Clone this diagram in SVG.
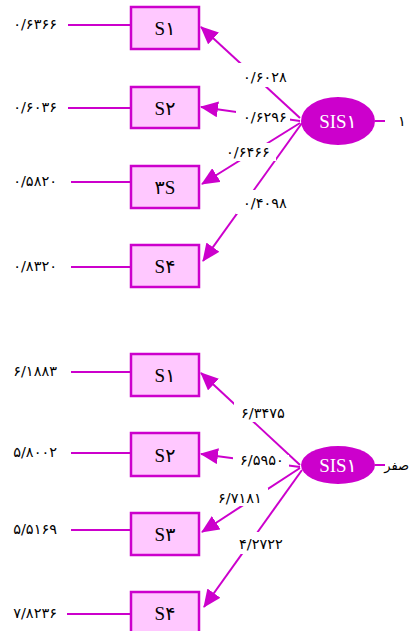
<svg xmlns="http://www.w3.org/2000/svg" width="411" height="631" viewBox="0 0 411 631">
<style>
.bg{fill:#ffffff}
.box{fill:#ffc8ff;stroke:#cc00cc;stroke-width:2.5}
.ell{fill:#cc00cc}
.ln{stroke:#cc00cc;stroke-width:2;fill:none}
.arr{stroke:#cc00cc;stroke-width:2;fill:none;marker-end:url(#ah)}
.lbl{font-family:"DejaVu Sans","Noto Sans",sans-serif;font-size:14.5px;fill:#000}
.nm{font-family:"Liberation Serif","DejaVu Serif","DejaVu Sans",serif;font-size:19px;fill:#000;text-anchor:middle}
.en{font-family:"Liberation Serif","DejaVu Serif","DejaVu Sans",serif;font-size:19px;fill:#fff;text-anchor:middle}
.lab{fill:#fff}
</style>
<defs>
<marker id="ah" markerUnits="userSpaceOnUse" markerWidth="18" markerHeight="16" refX="17" refY="8" orient="auto">
<path d="M0,0 L18,8 L0,16 z" fill="#cc00cc"/>
</marker>
</defs>
<rect class="bg" x="0" y="0" width="411" height="631"/>
<g id="connectors">
<line class="ln" x1="68" y1="25" x2="131" y2="25"/>
<line class="ln" x1="68" y1="108" x2="131" y2="108"/>
<line class="ln" x1="71" y1="182" x2="131" y2="182"/>
<line class="ln" x1="71" y1="267" x2="131" y2="267"/>
<line class="ln" x1="375" y1="121" x2="385" y2="121"/>
<line class="arr" x1="300" y1="118" x2="201" y2="27"/>
<line class="arr" x1="300" y1="121" x2="201" y2="107"/>
<line class="arr" x1="300" y1="123" x2="202" y2="184"/>
<line class="arr" x1="302" y1="123" x2="203" y2="261"/>
<line class="ln" x1="71" y1="372" x2="131" y2="372"/>
<line class="ln" x1="71" y1="453" x2="131" y2="453"/>
<line class="ln" x1="71" y1="530" x2="131" y2="530"/>
<line class="ln" x1="67" y1="614" x2="131" y2="614"/>
<line class="ln" x1="375" y1="465" x2="385" y2="465"/>
<line class="arr" x1="300" y1="465" x2="201" y2="373"/>
<line class="arr" x1="300" y1="467" x2="201" y2="454"/>
<line class="arr" x1="300" y1="468" x2="202" y2="532"/>
<line class="arr" x1="302" y1="470" x2="204" y2="607"/>
<rect class="lab" x="236" y="63" width="56" height="24"/>
<text class="lbl" x="265" y="82" text-anchor="middle">۰/۶۰۲۸</text>
<rect class="lab" x="236" y="111" width="54" height="14"/>
<text class="lbl" x="265" y="122" text-anchor="middle">۰/۶۲۹۶</text>
<rect class="lab" x="220" y="143" width="56" height="18"/>
<text class="lbl" x="248" y="157" text-anchor="middle">۰/۶۴۶۶</text>
<rect class="lab" x="236" y="190" width="56" height="24"/>
<text class="lbl" x="265" y="208" text-anchor="middle">۰/۴۰۹۸</text>
<rect class="lab" x="234" y="400" width="58" height="22"/>
<text class="lbl" x="263" y="418" text-anchor="middle">۶/۳۴۷۵</text>
<rect class="lab" x="233" y="455" width="56" height="12"/>
<text class="lbl" x="262" y="465" text-anchor="middle">۶/۵۹۵۰</text>
<rect class="lab" x="212" y="488" width="56" height="18"/>
<text class="lbl" x="240" y="503" text-anchor="middle">۶/۷۱۸۱</text>
<rect class="lab" x="232" y="532" width="58" height="22"/>
<text class="lbl" x="261" y="549" text-anchor="middle">۴/۲۷۲۲</text>
</g>
<g id="top-labels">
<text class="lbl" x="57" y="29" text-anchor="end">۰/۶۳۶۶</text>
<text class="lbl" x="57" y="112" text-anchor="end">۰/۶۰۳۶</text>
<text class="lbl" x="57" y="186" text-anchor="end">۰/۵۸۲۰</text>
<text class="lbl" x="57" y="271" text-anchor="end">۰/۸۳۲۰</text>
<text class="lbl" x="398" y="126">۱</text>
</g>
<g id="bottom-labels">
<text class="lbl" x="57" y="376" text-anchor="end">۶/۱۸۸۳</text>
<text class="lbl" x="57" y="457" text-anchor="end">۵/۸۰۰۲</text>
<text class="lbl" x="57" y="534" text-anchor="end">۵/۵۱۶۹</text>
<text class="lbl" x="57" y="618" text-anchor="end">۷/۸۲۳۶</text>
<text class="lbl" x="409" y="470" text-anchor="end" style="font-size:13px">صفر</text>
</g>
<g id="t-s1"><rect class="box" x="131" y="7" width="68" height="42"/><text class="nm" x="165" y="35">S۱</text></g>
<g id="t-s2"><rect class="box" x="131" y="87" width="68" height="41"/><text class="nm" x="165" y="115">S۲</text></g>
<g id="t-s3"><rect class="box" x="131" y="166" width="68" height="42"/><text class="nm" x="165" y="194">۳S</text></g>
<g id="t-s4"><rect class="box" x="131" y="245" width="68" height="42"/><text class="nm" x="165" y="273">S۴</text></g>
<g id="t-sis1"><ellipse class="ell" cx="338" cy="121" rx="37" ry="24"/><text class="en" x="338" y="128">SIS۱</text></g>
<g id="b-s1"><rect class="box" x="131" y="354" width="68" height="42"/><text class="nm" x="165" y="382">S۱</text></g>
<g id="b-s2"><rect class="box" x="131" y="433" width="68" height="43"/><text class="nm" x="165" y="462">S۲</text></g>
<g id="b-s3"><rect class="box" x="131" y="513" width="68" height="42"/><text class="nm" x="165" y="541">S۳</text></g>
<g id="b-s4"><rect class="box" x="131" y="592" width="68" height="42"/><text class="nm" x="165" y="620">S۴</text></g>
<g id="b-sis1"><ellipse class="ell" cx="338" cy="465" rx="37" ry="19"/><text class="en" x="338" y="472">SIS۱</text></g>
</svg>
